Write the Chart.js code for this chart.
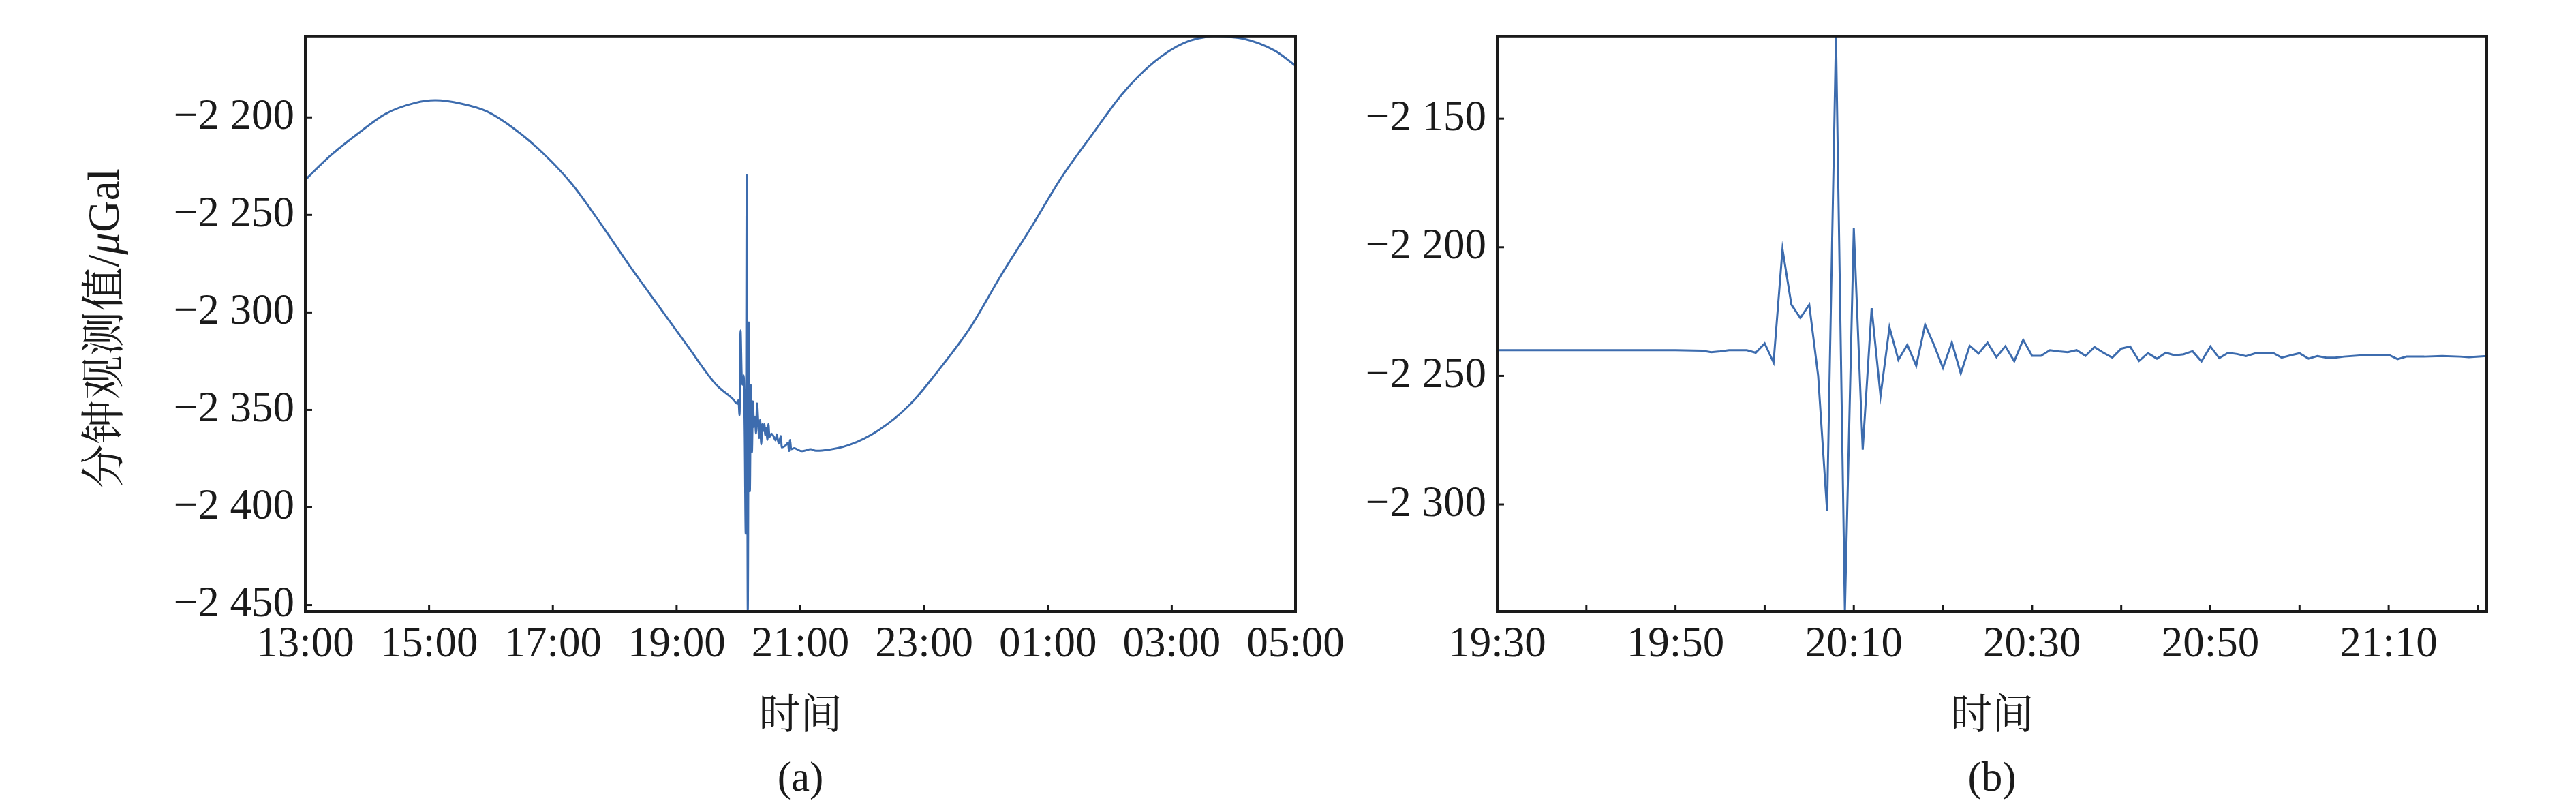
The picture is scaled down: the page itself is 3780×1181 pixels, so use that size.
<!DOCTYPE html>
<html>
<head>
<meta charset="utf-8">
<script src="https://cdn.jsdelivr.net/npm/chart.js@4.4.0/dist/chart.umd.min.js"></script>
<style>
  html, body { margin: 0; padding: 0; background: #fff; }
  body { width: 3780px; height: 1181px; position: relative; overflow: hidden; }
  canvas { position: absolute; top: 0; }
  #chartA { left: 0; }
  #chartB { left: 1985px; }
</style>
</head>
<body>
<canvas id="chartA" width="1985" height="1190"></canvas>
<canvas id="chartB" width="1795" height="1190"></canvas>
<script>
// (a) minute readings 13:00 -> 05:00 next day
const timesA = [
  '13:00','13:23','13:51','14:18','14:46','15:06','15:31','15:56','16:23','16:51',
  '17:19','17:47','18:15','18:43','19:11','19:38','19:54','19:59',
  '20:00','20:01','20:02','20:03','20:04','20:05','20:06','20:07','20:08','20:09',
  '20:10','20:11','20:12','20:13','20:14','20:15','20:16','20:17','20:18','20:19',
  '20:20','20:21','20:22','20:23','20:24','20:25','20:26','20:27','20:28','20:29',
  '20:30','20:32','20:34','20:36','20:37','20:39','20:41','20:42','20:44','20:46',
  '20:48','20:49','20:50','20:51','20:54','20:58','21:01','21:04','21:10','21:15',
  '21:21','21:47','22:16','22:46','23:15','23:45','00:14','00:44','01:13','01:43',
  '02:12','02:42','03:11','03:41','04:10','04:40','05:00'
];
const gravityA = [
  -2232.0,-2220.2,-2208.3,-2198.1,-2192.6,-2191.2,-2192.9,-2196.9,-2206.0,-2218.6,
  -2234.5,-2254.9,-2276.5,-2297.0,-2317.5,-2336.8,-2344.1,-2346.8,
  -2344.9,-2352.8,-2309.2,-2331.3,-2337.0,-2332.3,-2360.5,-2413.5,-2229.6,-2453.3,
  -2305.1,-2391.7,-2337.2,-2371.8,-2345.6,-2358.8,-2353.4,-2362.1,-2346.6,-2355.0,
  -2364.4,-2355.0,-2367.6,-2357.3,-2360.8,-2357.1,-2363.0,-2359.1,-2365.3,-2357.3,
  -2363.8,-2362.2,-2363.6,-2365.6,-2362.5,-2367.2,-2363.4,-2369.2,-2368.8,-2368.0,
  -2366.8,-2371.0,-2365.4,-2370.1,-2369.6,-2370.5,-2371.1,-2370.9,-2370.1,-2370.9,
  -2370.8,-2368.0,-2360.3,-2347.3,-2328.9,-2307.5,-2281.4,-2256.2,-2230.9,-2208.7,
  -2188.0,-2172.0,-2162.0,-2158.6,-2159.7,-2165.8,-2173.5
];
const xTicksA = ['13:00','15:00','17:00','19:00','21:00','23:00','01:00','03:00','05:00'];
const yTicksA = [-2450, -2400, -2350, -2300, -2250, -2200];

// (b) detail around the quake, 19:30 -> 21:21
const timesB = [
  '19:30','19:34','19:38','19:42','19:46','19:50','19:53','19:54','19:55','19:56','19:58','19:59',
  '20:00','20:01','20:02','20:03','20:04','20:05','20:06','20:07','20:08','20:09',
  '20:10','20:11','20:12','20:13','20:14','20:15','20:16','20:17','20:18','20:19',
  '20:20','20:21','20:22','20:23','20:24','20:25','20:26','20:27','20:28','20:29',
  '20:30','20:31','20:32','20:33','20:34','20:35','20:36','20:37','20:38','20:39',
  '20:40','20:41','20:42','20:43','20:44','20:45','20:46','20:47','20:48','20:49',
  '20:50','20:51','20:52','20:53','20:54','20:55','20:56','20:57','20:58','20:59',
  '21:00','21:01','21:02','21:03','21:04','21:05','21:07','21:09','21:10','21:11',
  '21:12','21:14','21:16','21:18','21:19','21:21'
];
const gravityB = [
  -2240.0,-2240.0,-2240.0,-2240.0,-2240.0,-2240.0,-2240.2,-2240.8,-2240.5,-2240.0,-2240.0,-2241.0,
  -2237.4,-2244.8,-2200.7,-2222.3,-2227.5,-2222.3,-2250.0,-2302.5,-2118.1,-2341.6,
  -2192.6,-2278.7,-2223.7,-2257.8,-2231.1,-2243.8,-2237.9,-2246.1,-2230.1,-2238.0,
  -2246.9,-2237.0,-2249.1,-2238.3,-2241.3,-2237.1,-2242.7,-2238.5,-2244.3,-2236.0,
  -2242.2,-2242.2,-2240.0,-2240.5,-2240.8,-2240.0,-2242.2,-2238.8,-2241.0,-2242.9,
  -2239.4,-2238.6,-2244.2,-2241.2,-2243.3,-2241.0,-2242.0,-2241.6,-2240.4,-2244.4,
  -2238.6,-2243.1,-2241.0,-2241.5,-2242.3,-2241.3,-2241.2,-2241.0,-2242.9,-2242.0,
  -2241.2,-2243.3,-2242.3,-2242.9,-2242.9,-2242.5,-2242.0,-2241.8,-2241.8,-2243.5,
  -2242.5,-2242.5,-2242.3,-2242.5,-2242.7,-2242.3
];
const xTicksB = ['19:30','19:40','19:50','20:00','20:10','20:20','20:30','20:40','20:50','21:00','21:10','21:20'];
const xLabelsB = ['19:30','19:50','20:10','20:30','20:50','21:10'];
const yTicksB = [-2300, -2250, -2200, -2150];

const latin = '"Liberation Serif", "Times New Roman", serif';
const mixed = '"Liberation Serif", "Noto Serif CJK SC", "Noto Sans CJK SC", serif';
const ink = '#1a1a1a';
const lineBlue = '#3d6cae';

// minutes after start, wrapping past midnight
function toMinutes(t, start) {
  const [h, m] = t.split(':').map(Number);
  const [h0, m0] = start.split(':').map(Number);
  let d = h * 60 + m - (h0 * 60 + m0);
  if (d < 0) d += 1440;
  return d;
}

function fmtGal(v) {
  const s = String(Math.abs(Math.round(v)));
  return '\u2212' + s.slice(0, -3) + ' ' + s.slice(-3);
}

// box round the plot plus inward tick marks
const frame = {
  id: 'frame',
  afterDraw(chart) {
    const { ctx, chartArea: a } = chart;
    const x = chart.scales.x, y = chart.scales.y;
    ctx.save();
    ctx.strokeStyle = ink;
    ctx.lineWidth = 3;
    x.ticks.forEach(t => {
      const px = x.getPixelForValue(t.value);
      ctx.beginPath(); ctx.moveTo(px, a.bottom); ctx.lineTo(px, a.bottom - 10); ctx.stroke();
    });
    y.ticks.forEach(t => {
      const py = y.getPixelForValue(t.value);
      ctx.beginPath(); ctx.moveTo(a.left, py); ctx.lineTo(a.left + 10, py); ctx.stroke();
    });
    ctx.lineWidth = 4;
    ctx.strokeRect(a.left, a.top, a.right - a.left, a.bottom - a.top);
    ctx.restore();
  }
};

// y title with italic mu
const yTitle = {
  id: 'yTitle',
  afterDraw(chart) {
    const ctx = chart.ctx;
    const runs = [
      { text: '分钟观测值/', font: '65px ' + mixed },
      { text: 'μ', font: 'italic 65px ' + latin },
      { text: 'Gal', font: '65px ' + latin }
    ];
    ctx.save();
    ctx.translate(151, 482);
    ctx.rotate(-Math.PI / 2);
    let total = 0;
    runs.forEach(r => { ctx.font = r.font; r.w = ctx.measureText(r.text).width; total += r.w; });
    let cx = -total / 2;
    ctx.fillStyle = ink;
    ctx.textBaseline = 'alphabetic';
    runs.forEach(r => { ctx.font = r.font; ctx.fillText(r.text, cx, 23); cx += r.w; });
    ctx.restore();
  }
};

function makeChart(id, cfg) {
  return new Chart(document.getElementById(id), {
    type: 'line',
    data: {
      datasets: [{
        data: cfg.times.map((t, i) => ({ x: toMinutes(t, cfg.start), y: cfg.values[i] })),
        borderColor: lineBlue,
        borderWidth: 3,
        pointRadius: 0,
        cubicInterpolationMode: cfg.smooth ? 'monotone' : 'default',
        tension: 0
      }]
    },
    options: {
      responsive: false,
      animation: false,
      events: [],
      layout: { autoPadding: false, padding: { top: 34, right: cfg.padRight, bottom: 0, left: 0 } },
      plugins: { legend: { display: false }, tooltip: { enabled: false } },
      scales: {
        x: {
          type: 'linear',
          min: 0,
          max: cfg.xMax,
          afterBuildTicks: s => { s.ticks = cfg.xTicks.map(t => ({ value: toMinutes(t, cfg.start) })); },
          afterFit: s => { s.height = 293; },
          grid: { display: false, drawTicks: false },
          border: { display: false },
          ticks: {
            autoSkip: false, maxRotation: 0, padding: 12, color: ink,
            font: { family: latin, size: 63 },
            callback: (v, i) => cfg.xLabel(cfg.xTicks[i])
          },
          title: {
            display: true, text: ['时间', cfg.tag], color: ink, padding: 0,
            font: { family: mixed, size: 61, lineHeight: 1.5 }
          }
        },
        y: {
          min: cfg.yMin,
          max: cfg.yMax,
          afterBuildTicks: s => { s.ticks = cfg.yTicks.map(v => ({ value: v })); },
          afterFit: s => { s.width = cfg.yWidth; },
          grid: { display: false, drawTicks: false },
          border: { display: false },
          ticks: { padding: 16, color: ink, font: { family: latin, size: 63 }, callback: v => fmtGal(v) }
        }
      }
    },
    plugins: cfg.plugins
  });
}

makeChart('chartA', {
  times: timesA, values: gravityA, start: '13:00', smooth: true,
  xMax: 960, xTicks: xTicksA, xLabel: t => t, tag: '(a)',
  yMin: -2453.3, yMax: -2158.6, yTicks: yTicksA,
  yWidth: 448, padRight: 84,
  plugins: [frame, yTitle]
});

makeChart('chartB', {
  times: timesB, values: gravityB, start: '19:30', smooth: false,
  xMax: 111, xTicks: xTicksB, xLabel: t => (xLabelsB.includes(t) ? t : ''), tag: '(b)',
  yMin: -2341.6, yMax: -2118.1, yTicks: yTicksB,
  yWidth: 212, padRight: 131,
  plugins: [frame]
});
</script>
</body>
</html>
